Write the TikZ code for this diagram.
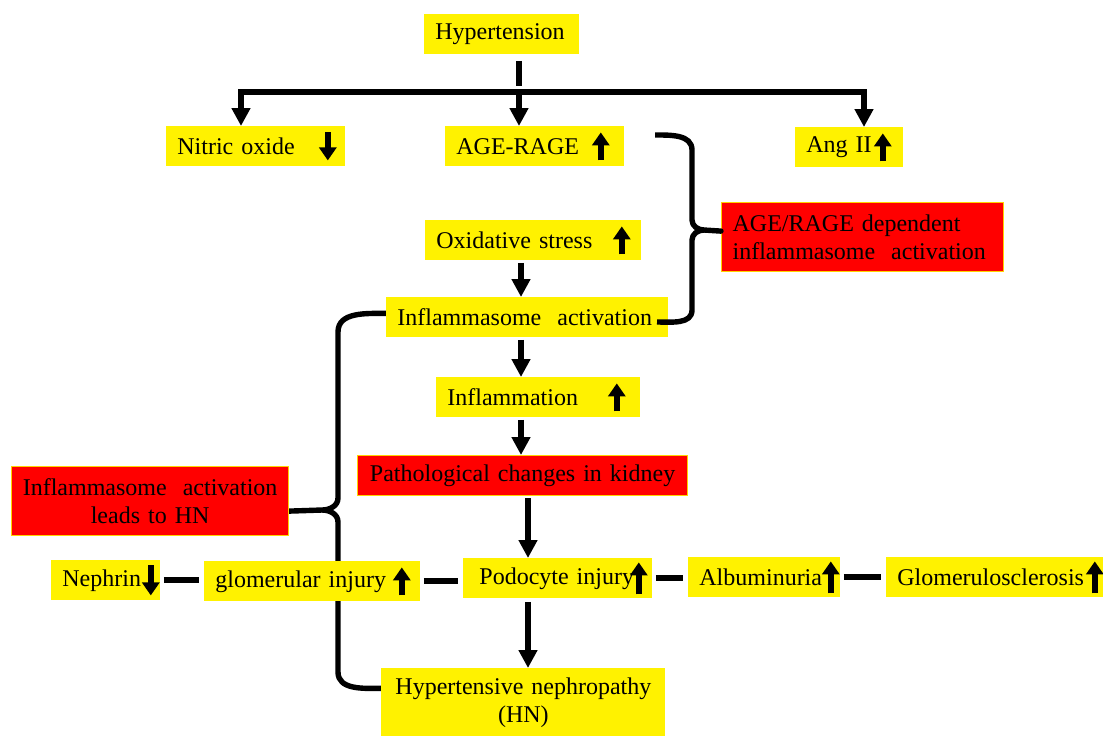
\documentclass[tikz,border=0pt]{standalone}
\usepackage{fontspec}
\setmainfont{Liberation Serif}
\usetikzlibrary{arrows.meta}
\definecolor{rimgold}{RGB}{255,210,0}
\pgfdeclarelayer{background}
\pgfsetlayers{background,main}
\tikzset{
  ybox/.style={fill=yellow, anchor=north west, inner xsep=5.5pt, inner ysep=0pt,
    minimum height=20pt, align=left, font=\fontsize{12}{14}\selectfont},
  rbox/.style={ybox, fill=red, draw=rimgold, line width=0.6pt, align=center},
  flow/.style={line width=2.8pt, -{Triangle[length=9pt,width=9pt]}},
  link/.style={line width=3pt, shorten <=1.5pt, shorten >=2.5pt},
  curlbr/.style={line width=2.7pt, line join=round},
  updn/.style={line width=2.7pt, -{Triangle[length=6.5pt,width=8.5pt]}}
}
\begin{document}
\begin{tikzpicture}[x=0.5pt,y=-0.5pt]
\useasboundingbox (0,0) rectangle (1103,736);
%boxes
\node[ybox, text width=66.5pt] (hyp) at (424,14) {Hypertension};
\node[ybox, text width=78.5pt] (no) at (166,126) {Nitric oxide};
\node[ybox, text width=78.5pt] (age) at (445,126) {AGE-RAGE};
\node[ybox, text width=43pt] (ang) at (795,127) {Ang II};
\node[rbox, text width=130pt, minimum height=34.5pt, align=left] (agedep) at (721,202) {AGE/RAGE dependent\\inflammasome\ \ activation};
\node[ybox, text width=97pt] (ox) at (425,220) {Oxidative stress};
\node[ybox, text width=130pt] (inf) at (386,297) {Inflammasome\ \ activation};
\node[ybox, text width=91pt] (infl) at (436,377) {Inflammation};
\node[rbox, text width=154pt] (path) at (357,455) {Pathological changes in kidney};
\node[rbox, text width=127.5pt, minimum height=34.5pt] (lead) at (11,466) {Inflammasome\ \ activation\\leads to HN};
\node[ybox, text width=43.5pt] (neph) at (51,560) {Nephrin};
\node[ybox, text width=97pt] (glom) at (204,561) {glomerular injury};
\node[ybox, inner xsep=8pt, text width=78.5pt] (podo) at (463,558) {Podocyte injury};
\node[ybox, text width=65pt] (alb) at (688,557) {Albuminuria};
\node[ybox, text width=97.5pt] (gs) at (886,557) {Glomerulosclerosis};
\node[ybox, text width=131pt, minimum height=34pt, align=center] (hn) at (381,668) {Hypertensive nephropathy\\(HN)};
%split from hypertension
\coordinate (split) at (519,92);
\coordinate (bl) at (241,92);
\coordinate (br) at (864,92);
\draw[line width=2.8pt](hyp.south -| split)++(0,6)--++(0,25);
\draw[flow](split) -| (bl |- no.north);
\draw[flow](split) -| (br |- ang.north);
\draw[flow](split) -- (split |- age.north);
%main chain
\coordinate (colA) at (521,0);
\coordinate (colB) at (528,0);
\draw[flow](ox.south -| colA)++(0,2)--(inf.north -| colA);
\draw[flow](inf.south -| colA)++(0,2)--(infl.north -| colA);
\draw[flow](infl.south -| colA)++(0,2)--(path.north -| colA);
\draw[flow](path.south -| colB)++(0,2)--(podo.north -| colB);
\draw[flow](podo.south -| colB)++(0,3)--(hn.north -| colB);
%injury row
\draw[link](neph.east)--(glom.west |- neph.east);
\draw[link](glom.east)--(podo.west |- glom.east);
\draw[link](podo.east)--(alb.west |- podo.east);
\draw[link](alb.east)--(gs.west |- alb.east);
%braces
\coordinate (rtop) at (655,135);
\coordinate (rbot) at (657,322);
\draw[curlbr](rtop) to[out=0,in=90] (692,150) -- (692,220) to[out=-90,in=180] (704,230)
  -- ([yshift=3pt]agedep.west) -- (704,230) to[out=180,in=90] (692,240) -- (692,310) to[out=-90,in=0] (rbot);
\begin{pgfonlayer}{background}
\draw[curlbr]([yshift=2pt]inf.west) to[out=180,in=90] (338,332) -- (338,498) to[out=-90,in=0] (322,510)
  -- ([yshift=-5pt]lead.east) -- (322,510) to[out=0,in=90] (338,522) -- (338,672) to[out=-90,in=180] ([yshift=7pt]hn.west);
\end{pgfonlayer}
%up and down marks
\draw[updn]([xshift=-9pt]no.east)++(0,-14)--++(0,28);
\draw[updn]([xshift=-12pt]age.east)++(0,14)--++(0,-28);
\draw[updn]([xshift=-10.5pt]ang.east)++(0,14)--++(0,-28);
\draw[updn]([xshift=-10pt]ox.east)++(0,14)--++(0,-28);
\draw[updn]([xshift=-12pt]infl.east)++(0,14)--++(0,-28);
\draw[updn]([xshift=-5pt]neph.east)++(0,-15)--++(0,30);
\draw[updn]([xshift=-9.5pt]glom.east)++(0,14)--++(0,-28);
\draw[updn]([xshift=-7pt]podo.east)++(0,16)--++(0,-32);
\draw[updn]([xshift=-5pt]alb.east)++(0,16)--++(0,-32);
\draw[updn]([xshift=-4.5pt]gs.east)++(0,16)--++(0,-32);
\end{tikzpicture}
\end{document}
